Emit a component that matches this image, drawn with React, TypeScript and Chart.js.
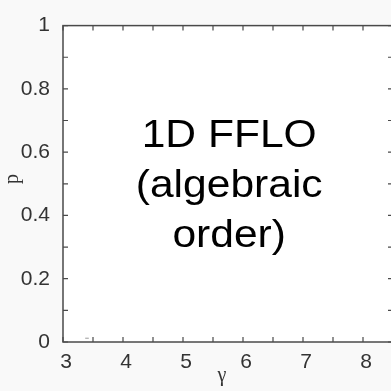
import React, { useEffect, useRef } from "react";
import { Chart, registerables } from "chart.js";
Chart.register(...registerables);

const X_RANGE = [3, 8.5];
const Y_RANGE = [0, 1];
const xMajorTicks = [3, 4, 5, 6, 7, 8];
const xAllTicks = [3, 3.5, 4, 4.5, 5, 5.5, 6, 6.5, 7, 7.5, 8, 8.5];
const yMajorTicks = [0, 0.2, 0.4, 0.6, 0.8, 1];
const yAllTicks = [0, 0.1, 0.2, 0.3, 0.4, 0.5, 0.6, 0.7, 0.8, 0.9, 1];
const traceX = [3.37, 3.43];
const traceY = [0.012, 0.012];
const regionText = ["1D FFLO", "(algebraic", "order)"];
const regionAnchor = [5.77, 0.457];
const xTitle = "γ";
const yTitle = "p";

const SANS = "'Liberation Sans', Arial, sans-serif";
const SERIF = "'Liberation Serif', 'Times New Roman', serif";

const bgPlugin = {
  id: "bg",
  beforeDraw(chart: any) {
    const { ctx, chartArea: a, width, height } = chart;
    ctx.save();
    ctx.fillStyle = "#f9f9f9";
    ctx.fillRect(0, 0, width, height);
    ctx.fillStyle = "#ffffff";
    ctx.fillRect(a.left, a.top, a.right - a.left, a.bottom - a.top);
    ctx.restore();
  },
};

const framePlugin = {
  id: "frame",
  afterDraw(chart: any) {
    const { ctx, chartArea: a, scales } = chart;
    const xs = scales.x;
    const ys = scales.y;
    ctx.save();
    ctx.strokeStyle = "#4a4a4a";
    ctx.lineWidth = 1.5;
    ctx.strokeRect(a.left, a.top, a.right - a.left, a.bottom - a.top);
    ctx.lineWidth = 1.2;
    const tl = 5;
    ctx.beginPath();
    for (const v of xAllTicks) {
      const px = xs.getPixelForValue(v);
      ctx.moveTo(px, a.bottom);
      ctx.lineTo(px, a.bottom - tl);
      ctx.moveTo(px, a.top);
      ctx.lineTo(px, a.top + tl);
    }
    for (const v of yAllTicks) {
      const py = ys.getPixelForValue(v);
      ctx.moveTo(a.left, py);
      ctx.lineTo(a.left + tl, py);
      ctx.moveTo(a.right, py);
      ctx.lineTo(a.right - tl, py);
    }
    ctx.stroke();

    // region label
    ctx.fillStyle = "#000";
    ctx.font = `38px ${SANS}`;
    ctx.textAlign = "center";
    ctx.textBaseline = "alphabetic";
    const cx = xs.getPixelForValue(regionAnchor[0]);
    const cy = ys.getPixelForValue(regionAnchor[1]);
    const lh = 50;
    regionText.forEach((t, i) => {
      ctx.save();
      ctx.translate(cx, cy + (i - 1) * lh);
      ctx.scale(1.12, 1);
      ctx.fillText(t, 0, 0);
      ctx.restore();
    });

    // axis titles
    ctx.fillStyle = "#333";
    ctx.font = `20px ${SERIF}`;
    ctx.textBaseline = "middle";
    ctx.fillText(xTitle, xs.getPixelForValue(5.65), a.bottom + 34);
    ctx.save();
    ctx.translate(a.left - 50, ys.getPixelForValue(0.515));
    ctx.rotate(-Math.PI / 2);
    ctx.fillText(yTitle, 0, 0);
    ctx.restore();
    ctx.restore();
  },
};

export default function App() {
  const ref = useRef<HTMLCanvasElement>(null);
  useEffect(() => {
    if (!ref.current) return;
    const chart = new Chart(ref.current, {
      type: "line",
      data: {
        datasets: [
          {
            data: traceX.map((x, i) => ({ x, y: traceY[i] })),
            borderColor: "#9a9a9a",
            borderWidth: 1,
            pointRadius: 0,
          },
        ],
      },
      options: {
        animation: false,
        responsive: false,
        layout: { padding: { top: 13, right: 7, left: 0, bottom: 0 } },
        plugins: { legend: { display: false }, tooltip: { enabled: false } },
        scales: {
          x: {
            type: "linear",
            min: X_RANGE[0],
            max: X_RANGE[1],
            afterBuildTicks: (s: any) => {
              s.ticks = xMajorTicks.map((value) => ({ value }));
            },
            afterFit: (s: any) => {
              s.height = 49;
            },
            grid: { display: false, drawTicks: false },
            border: { display: false },
            ticks: {
              font: { family: SANS, size: 21 },
              color: "#333",
              padding: 8,
              labelOffset: 3,
              maxRotation: 0,
              callback: (v: any) => String(v),
            },
          },
          y: {
            type: "linear",
            min: Y_RANGE[0],
            max: Y_RANGE[1],
            afterBuildTicks: (s: any) => {
              s.ticks = yMajorTicks.map((value) => ({ value }));
            },
            afterFit: (s: any) => {
              s.width = 63;
            },
            grid: { display: false, drawTicks: false },
            border: { display: false },
            ticks: {
              font: { family: SANS, size: 21 },
              color: "#333",
              padding: 13,
              callback: (v: any) => String(Math.round(v * 10) / 10),
            },
          },
        },
      },
      plugins: [bgPlugin, framePlugin],
    });
    return () => chart.destroy();
  }, []);
  return (
    <div
      style={{
        position: "fixed",
        left: 0,
        top: 0,
        width: 391,
        height: 391,
        overflow: "hidden",
        background: "#f9f9f9",
      }}
    >
      <canvas ref={ref} width={400} height={391} style={{ display: "block" }} />
    </div>
  );
}
